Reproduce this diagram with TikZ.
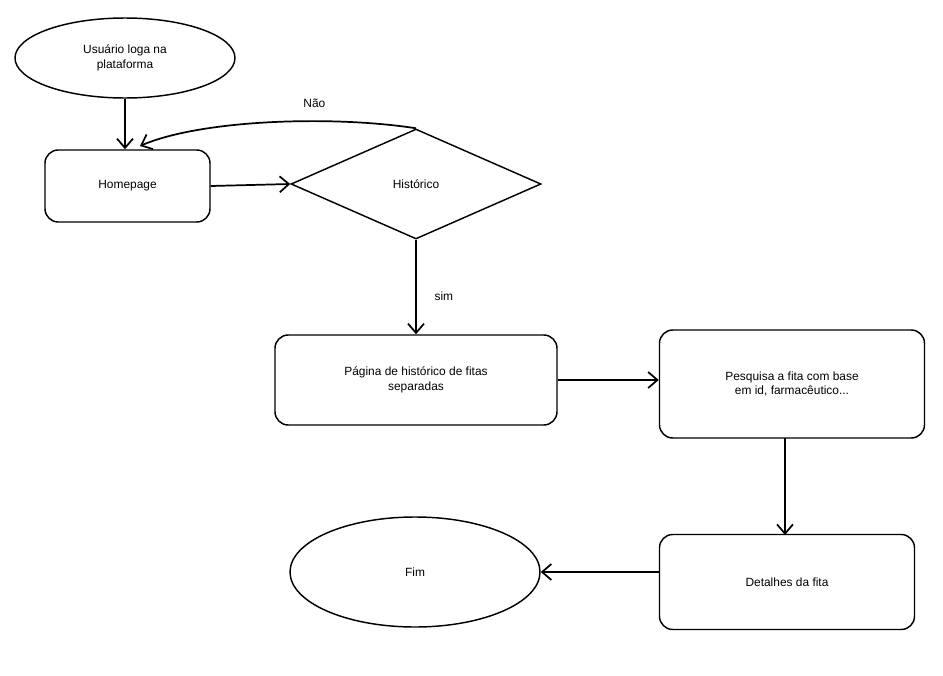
\documentclass[tikz,border=0pt]{standalone}
\usepackage{fontspec}
\setmainfont{Liberation Sans}
\usetikzlibrary{shapes.geometric,arrows.meta}
\begin{document}
\begin{tikzpicture}[x=0.0265cm,y=-0.0265cm,
  box/.style={draw,line width=1.1pt,rounded corners=10pt,align=center,font=\small,inner sep=0pt},
  ell/.style={draw,ellipse,line width=1.1pt,align=center,font=\small,inner sep=0pt},
  arr/.style={line width=1.3pt,-{Straight Barb[length=7pt,width=12pt]}},
  lbl/.style={font=\small}]
\useasboundingbox (0,0) rectangle (943,676);
\node[ell,minimum width=220*0.0265cm,minimum height=80*0.0265cm] (start) at (125,58) {Usuário loga na\\plataforma};
\node[box,minimum width=165*0.0265cm,minimum height=72*0.0265cm] (home) at (127.5,186) {Homepage};
\node[draw,diamond,aspect=2.3,line width=1.1pt,font=\small,minimum width=250*0.0265cm,minimum height=110*0.0265cm,inner sep=0pt] (hist) at (416,184) {Histórico};
\node[box,minimum width=282*0.0265cm,minimum height=90*0.0265cm] (pag) at (416,380) {Página de histórico de fitas\\separadas};
\node[box,minimum width=265*0.0265cm,minimum height=108*0.0265cm] (pesq) at (792,384) {Pesquisa a fita com base\\em id, farmacêutico...};
\node[box,minimum width=255*0.0265cm,minimum height=95*0.0265cm] (det) at (787,582) {Detalhes da fita};
\node[ell,minimum width=250*0.0265cm,minimum height=110*0.0265cm] (fim) at (415,572) {Fim};
\draw[arr] (start.south) -- (start.south |- home.north);
\draw[arr] (home.east) -- (hist.west);
\draw[arr] (hist.north) .. controls (330,115) and (200,120) .. (140,146) node[pos=0.35,above,lbl,yshift=6pt] {Não};
\draw[arr] (hist.south) -- (hist.south |- pag.north) node[pos=0.6,right,lbl,xshift=10pt] {sim};
\draw[arr] (pag.east) -- (pag.east -| pesq.west);
\draw[arr] (785,438) -- (785,535);
\draw[arr] (det.west |- fim.east) -- (fim.east);
\end{tikzpicture}
\end{document}
